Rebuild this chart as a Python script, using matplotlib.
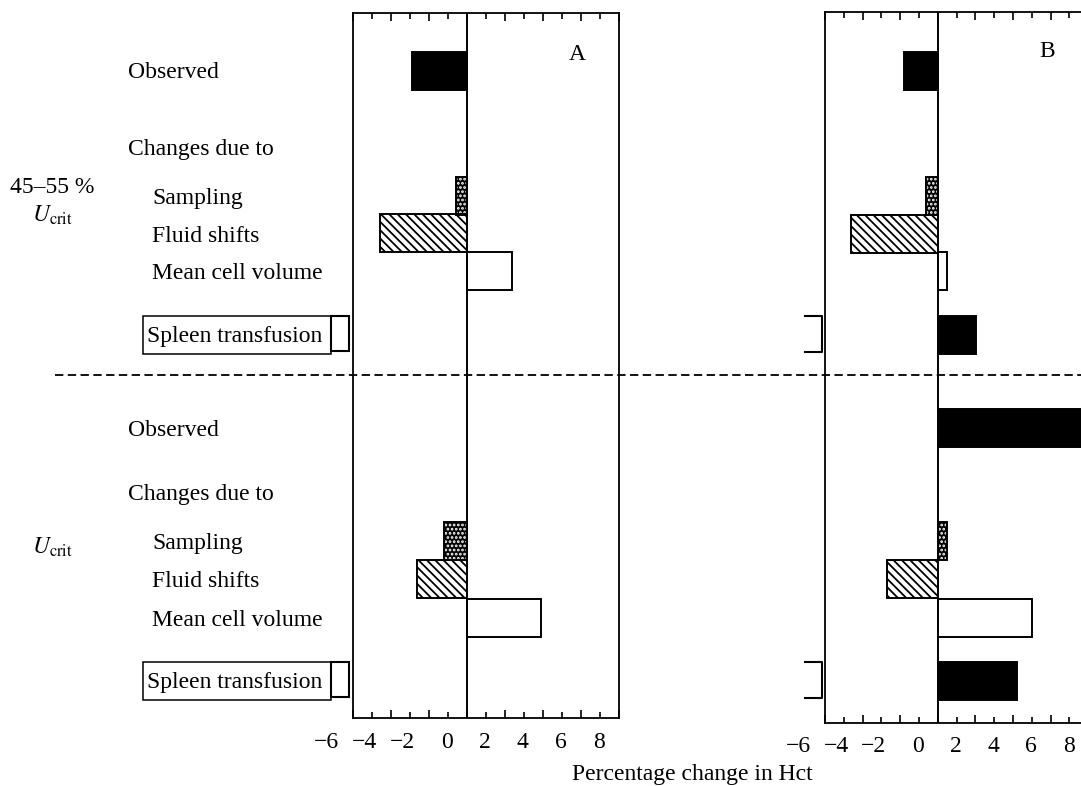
import matplotlib
matplotlib.use("Agg")
import matplotlib.pyplot as plt
from matplotlib.transforms import Affine2D, blended_transform_factory
from matplotlib.patches import Rectangle
from matplotlib.lines import Line2D

plt.rcParams['font.family'] = ['Liberation Serif', 'DejaVu Serif']
plt.rcParams['mathtext.fontset'] = 'stix'
plt.rcParams['hatch.linewidth'] = 1.3
plt.rcParams['lines.scale_dashes'] = False

# ---------------- data ----------------
categories = ["Observed", "Sampling", "Fluid shifts", "Mean cell volume", "Spleen transfusion"]
groups = ["45\u201355 %", "$U_{\\mathrm{crit}}$"]
panelA_partial = [-2.9, -0.55, -4.55, 2.4, 0.0]   # 45-55 % Ucrit
panelA_ucrit = [0.0, -1.2, -2.6, 3.9, 0.0]        # Ucrit
panelB_partial = [-1.8, -0.65, -4.6, 0.5, 2.05]
panelB_ucrit = [8.0, 0.5, -2.7, 5.0, 4.2]
tick_values = [-6, -4, -2, 0, 2, 4, 6, 8]
x_label = "Percentage change in Hct"
panel_names = ["A", "B"]

# ---------------- layout ----------------
W, H = 1081, 786
FS = 17
fig = plt.figure(figsize=(W / 100, H / 100), dpi=100)
T = Affine2D().scale(1 / W, -1 / H).translate(0, 1) + fig.transFigure


def add_axes_px(left, top, right, bottom):
    ax = fig.add_axes([left / W, 1 - bottom / H, (right - left) / W, (bottom - top) / H])
    ax.set_ylim(bottom, top)
    ax.set_facecolor('none')
    return ax


axA = add_axes_px(353, 13, 618.5, 718)
axB = add_axes_px(825, 12, 1088.3, 723)

rows_upper = [71, 196, 233.5, 271, 335]
rows_lower = [428, 541, 579, 618, 681]
bar_h = 38
LW = 1.4


def draw_bar(ax, y, v, kind):
    if v == 0:
        return
    if kind == 0 or kind == 4:  # black solid
        ax.barh(y, v, height=bar_h, color='black', edgecolor='black', linewidth=LW, zorder=3)
    elif kind == 1:  # black with white dots
        ax.barh(y, v, height=bar_h, color='black', edgecolor='white', hatch='....',
                linewidth=0, zorder=3)
        ax.barh(y, v, height=bar_h, fill=False, edgecolor='black', linewidth=LW, zorder=4)
    elif kind == 2:  # diagonal hatch
        ax.barh(y, v, height=bar_h, color='white', edgecolor='black', hatch='\\\\\\\\',
                linewidth=LW, zorder=3)
    else:  # open
        ax.barh(y, v, height=bar_h, color='white', edgecolor='black', linewidth=LW, zorder=3)


for ax, upper, lower, name, lbl_base, name_pos in [
        (axA, panelA_partial, panelA_ucrit, panel_names[0], 748, (577, 60)),
        (axB, panelB_partial, panelB_ucrit, panel_names[1], 752, (1047, 57))]:
    ax.set_xlim(-6, 8)
    for i, v in enumerate(upper):
        draw_bar(ax, rows_upper[i], v, i)
    for i, v in enumerate(lower):
        draw_bar(ax, rows_lower[i], v, i)
    ax.axvline(0, color='black', lw=1.4, zorder=5)
    ax.set_yticks([])
    ax.set_xticks([t for t in range(-6, 9, 2)])
    ax.set_xticks([t for t in range(-5, 8, 2)], minor=True)
    ax.tick_params(axis='x', which='both', direction='in', top=True, bottom=True,
                   labelbottom=False, width=1.2)
    ax.tick_params(axis='x', which='major', length=5.5)
    ax.tick_params(axis='x', which='minor', length=4)
    for s in ax.spines.values():
        s.set_linewidth(1.3)
    bt = blended_transform_factory(ax.transData, T)
    for v in tick_values:
        ax.text(v - 1 + 0.27, lbl_base, str(v).replace('-', '\u2212'), transform=bt,
                ha='right', va='baseline', fontsize=FS, clip_on=False)
    fig.text(name_pos[0], name_pos[1], name, transform=T, ha='center', va='baseline', fontsize=FS)

# left labels
for rows, obs_base, ch_base in [(rows_upper, 78, 155), (rows_lower, 436, 500)]:
    fig.text(128, obs_base, categories[0], transform=T, fontsize=FS, va='baseline')
    fig.text(128, ch_base, "Changes due to", transform=T, fontsize=FS, va='baseline')
    for i in (1, 2, 3):
        fig.text(152, rows[i] + 8, categories[i], transform=T, fontsize=FS, va='baseline')
    fig.text(147, rows[4] + 7, categories[4], transform=T, fontsize=FS, va='baseline')
    top = rows[4] - 19
    fig.add_artist(Rectangle((143, top), 188, 38, transform=T, fill=False,
                             edgecolor='black', lw=1.1))
    fig.add_artist(Rectangle((331, top), 18, 35, transform=T, fill=False,
                             edgecolor='black', lw=1.5))
    # brackets to the left of panel B
    fig.add_artist(Line2D([805, 822, 822, 805], [top, top, top + 36, top + 36],
                          transform=T, color='black', lw=1.5))

fig.text(52, 193, groups[0], transform=T, fontsize=FS, ha='center', va='baseline')
fig.text(53, 222, groups[1], transform=T, fontsize=FS, ha='center', va='baseline')
fig.text(53, 554, groups[1], transform=T, fontsize=FS, ha='center', va='baseline')

# dashed separator
fig.add_artist(Line2D([55, 1081], [375, 375], transform=T, color='black', lw=1.3,
                      linestyle=(0, (6.0, 3.2)), zorder=10))

fig.text(692, 780, x_label, transform=T, fontsize=FS, ha='center', va='baseline')

fig.savefig("out.png", dpi=100)
